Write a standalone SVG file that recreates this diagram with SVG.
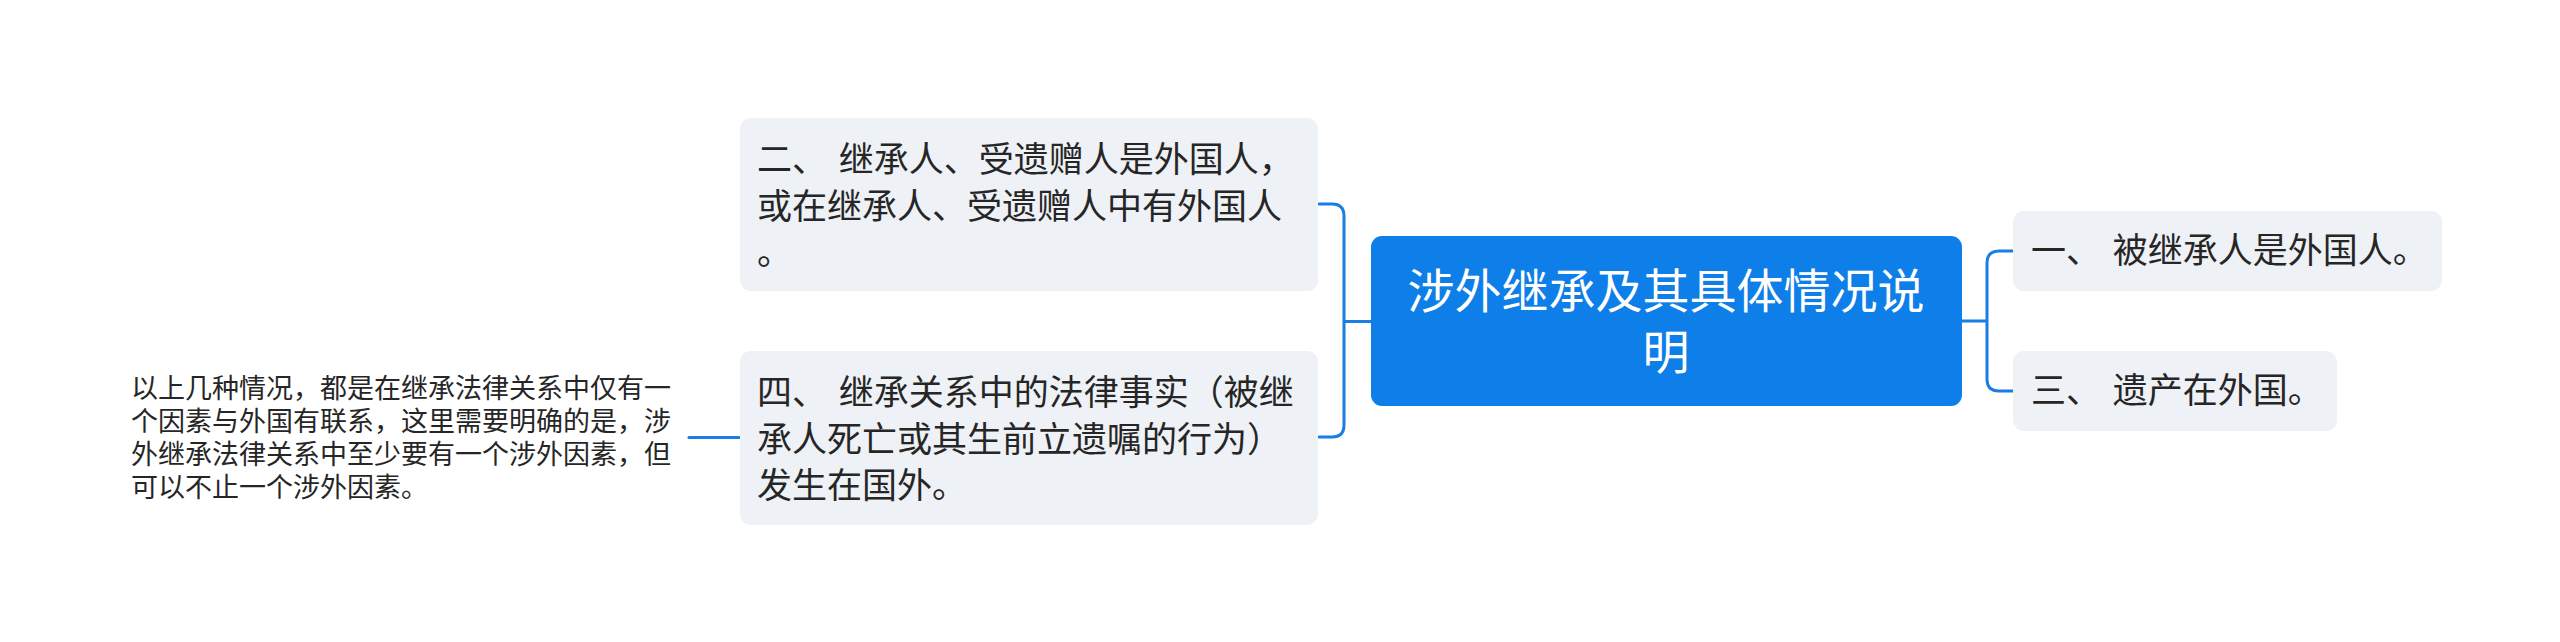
<svg xmlns="http://www.w3.org/2000/svg" width="2560" height="642" viewBox="0 0 2560 642">
<style>
.bg{fill:#ffffff}
.node{fill:#eef1f5}
.root{fill:#0e7ee8}
.t{font-family:"Liberation Sans","Noto Sans CJK SC",sans-serif;fill:#262626}
.n{font-size:35px;word-spacing:2px}
.r{font-size:47px;fill:#ffffff;text-anchor:middle}
.s{font-size:27px}
.c{fill:none;stroke:#1a7de3;stroke-width:3;stroke-linecap:round}
</style>
<rect class="bg" x="0" y="0" width="2560" height="642"/>
<g id="connectors">
<path class="c" d="M1371 321.5 H1344 M1319 204 H1332 Q1344 204 1344 216 V425 Q1344 437 1332 437 H1319"/>
<path class="c" d="M1961 321 H1987 M2013 251 H1999 Q1987 251 1987 263 V379 Q1987 391 1999 391 H2013"/>
<path class="c" d="M689 437.5 H739"/>
</g>
<g id="root">
<rect class="root" x="1371" y="236" width="591" height="170" rx="11"/>
<text class="t r" x="1666" y="308">涉外继承及其具体情况说</text>
<text class="t r" x="1666" y="369">明</text>
</g>
<g id="node-er">
<rect class="node" x="740" y="118" width="578" height="173" rx="11"/>
<text class="t n" x="757" y="172">二、 继承人、受遗赠人是外国人，</text>
<text class="t n" x="757" y="218.5">或在继承人、受遗赠人中有外国人</text>
<text class="t n" x="757" y="265">。</text>
</g>
<g id="node-si">
<rect class="node" x="740" y="351" width="578" height="174" rx="11"/>
<text class="t n" x="757" y="405">四、 继承关系中的法律事实（被继</text>
<text class="t n" x="757" y="451.5">承人死亡或其生前立遗嘱的行为）</text>
<text class="t n" x="757" y="498">发生在国外。</text>
</g>
<g id="node-yi">
<rect class="node" x="2013" y="211" width="429" height="80" rx="11"/>
<text class="t n" x="2031" y="263">一、 被继承人是外国人。</text>
</g>
<g id="node-san">
<rect class="node" x="2013" y="351" width="324" height="80" rx="11"/>
<text class="t n" x="2031" y="403">三、 遗产在外国。</text>
</g>
<g id="note">
<text class="t s" x="131" y="398">以上几种情况，都是在继承法律关系中仅有一</text>
<text class="t s" x="131" y="431">个因素与外国有联系，这里需要明确的是，涉</text>
<text class="t s" x="131" y="464">外继承法律关系中至少要有一个涉外因素，但</text>
<text class="t s" x="131" y="497">可以不止一个涉外因素。</text>
</g>
</svg>
